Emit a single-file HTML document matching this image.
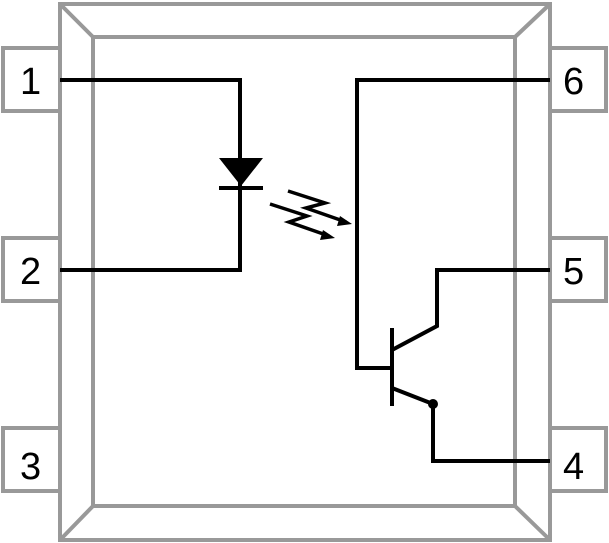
<!DOCTYPE html><html><head><style>body{margin:0;background:#fff}svg{display:block}text{font-family:"Liberation Sans",sans-serif;font-size:38px}</style></head><body>
<svg width="609" height="543" viewBox="0 0 609 543">
<g fill="none" stroke="#999" stroke-width="4">
<rect x="3" y="48" width="57" height="63" fill="#fff"/>
<rect x="3" y="238" width="57" height="63" fill="#fff"/>
<rect x="3" y="428" width="57" height="63" fill="#fff"/>
<rect x="550" y="48" width="56" height="63" fill="#fff"/>
<rect x="550" y="238" width="56" height="63" fill="#fff"/>
<rect x="550" y="428" width="56" height="63" fill="#fff"/>
<rect x="60" y="4" width="490" height="536" fill="#fff"/>
<rect x="93" y="37" width="422" height="469"/>
<path d="M60 4L93 37M550 4L515 37M60 540L93 506M550 540L515 506"/>
</g>
<g fill="#000">
<text x="20" y="94">1</text><text x="20" y="284">2</text><text x="20" y="479">3</text>
<text x="563" y="94">6</text><text x="563" y="284">5</text><text x="563" y="479">4</text>
</g>
<g fill="none" stroke="#000" stroke-width="4">
<path d="M60 80H240V270H60"/>
<path d="M219 188H263"/>
<path d="M550 80H357V368H392"/>
<path d="M392 328V406"/>
<path d="M392 350L437 326V270H550"/>
<path d="M392 388L433 404V461H550"/>
<path d="M288 191L325 203L306 208L346 222" stroke-width="3.5"/>
<path d="M270 204L307 216L289 222L329 236" stroke-width="3.5"/>
</g>
<g fill="#000">
<polygon points="219,158 263,158 241,186"/>
<polygon points="352,224 340,216 337,226"/>
<polygon points="335,238 323,230 320,240"/>
<circle cx="433" cy="404" r="5"/>
</g>
</svg></body></html>
